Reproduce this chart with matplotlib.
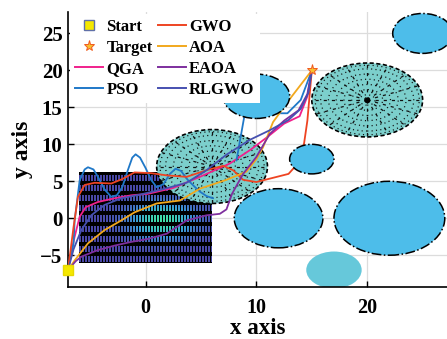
import numpy as np
import matplotlib
matplotlib.use('Agg')
import matplotlib.pyplot as plt
from matplotlib.patches import Circle
from matplotlib.colors import LinearSegmentedColormap
from matplotlib.lines import Line2D

nan = np.nan
# ---------------- data ----------------
start_pt = (-7, -7)
target_pt = (15, 20)

pso_x = [-7, -6.5, -6.4, -5.95, -5.5, -5.2, -4.7, -4.3, -3.7, -3.1, -2.6, -2.1, -1.6, -1.2, -0.9, -0.5, 0.0, 0.5, 1.0, 1.6, 2.2, 2.7, 3.2, 3.8, 4.4, 4.9, 5.5, 6.1,
         nan, 8.2, 8.9, 10.5, 12.8, 14.0, 15]
pso_y = [-7, -3.4, -0.3, 5.1, 6.6, 6.9, 6.6, 5.6, 3.9, 2.9, 3.1, 4.2, 6.5, 8.2, 8.65, 8.2, 6.8, 5.2, 4.2, 4.6, 6.0, 6.7, 6.4, 5.2, 4.3, 3.6, 3.0, 2.7,
         nan, 7.8, 13.7, 14.2, 14.2, 16.0, 20]

gwo_x = [-7, -6.5, -6.1, -5.5, -4.6, -3.1, -2.1, -1.0, 0.5, 1.9, 3.7, 5.5, 7.0, 7.9, 8.8, 10.0, 12.9, 13.5, 14.3, 14.6, 15]
gwo_y = [-7, -1.2, 2.9, 4.5, 4.8, 4.7, 5.3, 6.2, 6.1, 5.8, 5.6, 6.5, 7.1, 6.5, 5.2, 4.9, 6.0, 7.0, 10.1, 13.2, 20]

qga_x = [-7, -6.7, -6.4, -5.95, -5.4, -4.3, -2.8, -1.3, 0.2, 2.5, 4.9, 7.6, 9.5, 11.0, 12.5, 13.9, 14.6, 15]
qga_y = [-7, -4.5, -2.5, 0.2, 1.5, 2.2, 2.7, 3.1, 3.3, 4.1, 5.6, 7.4, 9.3, 11.0, 12.8, 13.8, 16.5, 20]

aoa_x = [-7, -6.4, -5.2, -3.7, -2.2, -1.0, 1.0, 3.1, 4.9, 7.3, 9.1, 10.0, 10.6, 11.5, 13.1, 15]
aoa_y = [-7, -5.7, -3.4, -1.6, -0.3, 0.8, 2.0, 2.4, 4.0, 5.2, 6.3, 8.0, 9.6, 13.0, 16.3, 20]

eaoa_x = [-7, -6.3, -5.8, -4.3, -2.8, -1.3, 0.2, 1.9, 2.8, 3.7, 5.5, 6.7, 7.3, 7.8, 8.8, 10.0, 11.2, 12.5, 13.8, 14.6, 15]
eaoa_y = [-7, -5.8, -5.2, -4.3, -3.7, -3.2, -2.8, -2.1, -1.2, -0.3, 0.4, 0.6, 1.2, 3.3, 6.0, 8.3, 11.4, 13.2, 14.6, 16.8, 20]

rlgwo_x = [-7, -6.5, -5.8, -4.9, -3.7, -2.2, -0.5, 1.5, 3.7, 5.5, 7.3, 9.4, 11.2, 12.9, 14.0, 14.7, 15]
rlgwo_y = [-7, -4.2, -1.6, 0.4, 1.8, 2.7, 3.2, 3.9, 4.8, 6.5, 8.6, 10.6, 11.9, 13.3, 14.8, 17.0, 20]

# obstacles
threat_x = [6, 20]
threat_y = [7, 16]
threat_r = [5, 5]
obst_x = [10, 15, 12, 22, 25]
obst_y = [16.5, 8, 0, 0, 25]
obst_r = [3, 2, 4, 5, 2.7]
soft_x = [17]
soft_y = [-7]
soft_r = [2.5]
terrain_extent = [-6, 6, -6, 6.2]

xticks = [0, 10, 20]
yticks = [-5, 0, 5, 10, 15, 20, 25]

# ---------------- figure ----------------
plt.rcParams['font.family'] = ['Liberation Serif', 'DejaVu Serif']
plt.rcParams['font.weight'] = 'bold'

fig = plt.figure(figsize=(4.47, 3.39), dpi=100)
ax = fig.add_axes([68/447, 52/339, 379/447, 275/339])
ax.set_xlim(-7, 27.2)
ax.set_ylim(-9.3, 27.9)

ax.grid(True, color='#dcdcdc', lw=0.9, zorder=0)
ax.set_axisbelow(True)
ax.set_xticks(xticks)
ax.set_yticks(yticks)
ax.tick_params(direction='in', length=4, width=1, labelsize=15, pad=4)
ax.tick_params(axis='x', pad=8, labelsize=14.5)
for lab in ax.get_xticklabels() + ax.get_yticklabels():
    lab.set_fontweight('bold')
ax.spines['top'].set_visible(False)
ax.spines['right'].set_visible(False)
ax.spines['left'].set_linewidth(1.2)
ax.spines['bottom'].set_linewidth(1.2)
ax.set_xlabel('x axis', fontsize=16.5, fontweight='bold', labelpad=0)
ax.set_ylabel('y axis', fontsize=17, fontweight='bold', labelpad=5)

# terrain texture image
x0, x1, y0, y1 = terrain_extent
ny, nx = 90, 133
yy, xx = np.mgrid[0:ny, 0:nx]
gx = x0 + (xx + 0.5) / nx * (x1 - x0)
gy = y1 - (yy + 0.5) / ny * (y1 - y0)
mask = ((yy % 10) >= 3) & ((yy % 10) <= 8) & ((xx % 3) <= 1)
val = 0.3 + 0.7 * np.exp(-((gx - 1.5) ** 2 / (2 * 1.9 ** 2) + (gy + 0.3) ** 2 / (2 * 1.6 ** 2)))
img = np.where(mask, val, 0.0)
cmap = LinearSegmentedColormap.from_list('terr', [(0, '#000000'), (0.3, '#4a48a8'), (0.6, '#3a9ad8'), (1.0, '#40e0a8')])
ax.imshow(img, extent=terrain_extent, cmap=cmap, vmin=0, vmax=1, aspect='auto',
          interpolation='nearest', zorder=1)

# threat zones (teal)
for cx, cy, r in zip(threat_x, threat_y, threat_r):
    ax.add_patch(Circle((cx, cy), r, facecolor='#7ccfcc', edgecolor='black', lw=1.2,
                        linestyle=(0, (2.5, 1.5)), zorder=2))
    for k in [0.14, 0.28, 0.42, 0.56, 0.70, 0.84, 0.94]:
        ax.add_patch(Circle((cx, cy), r * k, facecolor='none', edgecolor='#111111', lw=0.9,
                            linestyle=(0, (0.9, 2.6)), zorder=2))
    for a in np.linspace(0, 2 * np.pi, 16, endpoint=False):
        ax.plot([cx, cx + r * np.cos(a)], [cy, cy + r * np.sin(a)], color='#111111', lw=0.9,
                linestyle=(0, (2.5, 4)), zorder=2)
    ax.plot(cx, cy, 'o', color='black', ms=3, zorder=2)

# soft obstacle
for cx, cy, r in zip(soft_x, soft_y, soft_r):
    ax.add_patch(Circle((cx, cy), r, facecolor='#66c8da', edgecolor='none', zorder=2))

# paths
series = [
    ('QGA', qga_x, qga_y, '#f0208c'),
    ('PSO', pso_x, pso_y, '#1f78c8'),
    ('GWO', gwo_x, gwo_y, '#ee4422'),
    ('AOA', aoa_x, aoa_y, '#f2a81d'),
    ('EAOA', eaoa_x, eaoa_y, '#7e2f9e'),
    ('RLGWO', rlgwo_x, rlgwo_y, '#4650b0'),
]
for name, xs, ys, col in series:
    ax.plot(xs, ys, color=col, lw=1.3, zorder=3, solid_capstyle='round')

# hard obstacles (blue)
for cx, cy, r in zip(obst_x, obst_y, obst_r):
    ax.add_patch(Circle((cx, cy), r, facecolor='#4dbdea', edgecolor='black', lw=1.1,
                        linestyle='-.', zorder=4))

# start & target
ax.plot(*start_pt, 's', ms=7, mfc='#f5e800', mec='#e8d800', zorder=5, clip_on=False)
ax.plot(*target_pt, '*', ms=8, mfc='#f7c030', mec='#f05a20', mew=0.7, zorder=5)

handles = [
    Line2D([], [], ls='none', marker='s', ms=6.5, mfc='#f5e800', mec='#6070a8'),
    Line2D([], [], ls='none', marker='*', ms=8, mfc='#f7c030', mec='#f05a20', mew=0.7),
]
labels = ['Start', 'Target']
for name, xs, ys, col in series:
    handles.append(Line2D([], [], color=col, lw=1.4))
    labels.append(name)
leg = ax.legend(handles, labels, ncol=2, loc='upper left', bbox_to_anchor=(0.0, 1.0),
                borderaxespad=0.1, frameon=True, fancybox=False, edgecolor='none',
                facecolor='white', framealpha=1, prop={'family': 'Liberation Serif', 'weight': 'bold', 'size': 12},
                handlelength=1.7, handletextpad=0.2, columnspacing=0.3, labelspacing=0.3,
                borderpad=0.3)
leg.set_zorder(10)

fig.savefig('out.png', dpi=100)
